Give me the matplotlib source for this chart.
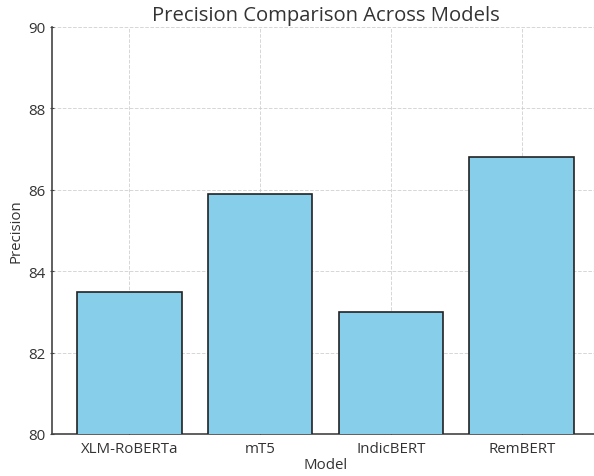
import matplotlib
matplotlib.use("Agg")
import matplotlib.pyplot as plt

models = ["XLM-RoBERTa", "mT5", "IndicBERT", "RemBERT"]
precision = [83.5, 85.9, 83.0, 86.8]
yticks = [80, 82, 84, 86, 88, 90]

plt.rcParams['font.family'] = ['Open Sans', 'DejaVu Sans']
text_color = '#333333'

fig = plt.figure(figsize=(5.94, 4.77), dpi=100)
ax = fig.add_axes([52/594, 1-435/477, 547/594, (435-28)/477])

ax.bar(models, precision, width=0.8, color='skyblue', edgecolor='#222222', linewidth=1.2, zorder=3)
ax.set_ylim(80, 90)
ax.set_yticks(yticks)
ax.grid(True, linestyle='--', color='#cccccc', linewidth=0.7, alpha=0.8, zorder=0)
ax.set_axisbelow(True)

for s in ['top', 'right']:
    ax.spines[s].set_visible(False)
for s in ['left', 'bottom']:
    ax.spines[s].set_color('#444444')
    ax.spines[s].set_linewidth(1.2)

ax.tick_params(axis='x', labelsize=10.8, colors='#444444', labelcolor=text_color,
               length=3, width=0.8, direction='in', pad=5)
ax.tick_params(axis='y', labelsize=10.8, colors='#444444', labelcolor=text_color,
               length=3, width=0.8, direction='inout', pad=3.5)
ax.set_title("Precision Comparison Across Models", fontsize=14.6, color=text_color, pad=5)
ax.set_xlabel("Model", fontsize=10.8, color=text_color, labelpad=1)
ax.set_ylabel("Precision", fontsize=10.8, color=text_color, labelpad=3)

fig.savefig("out.png", dpi=100)
